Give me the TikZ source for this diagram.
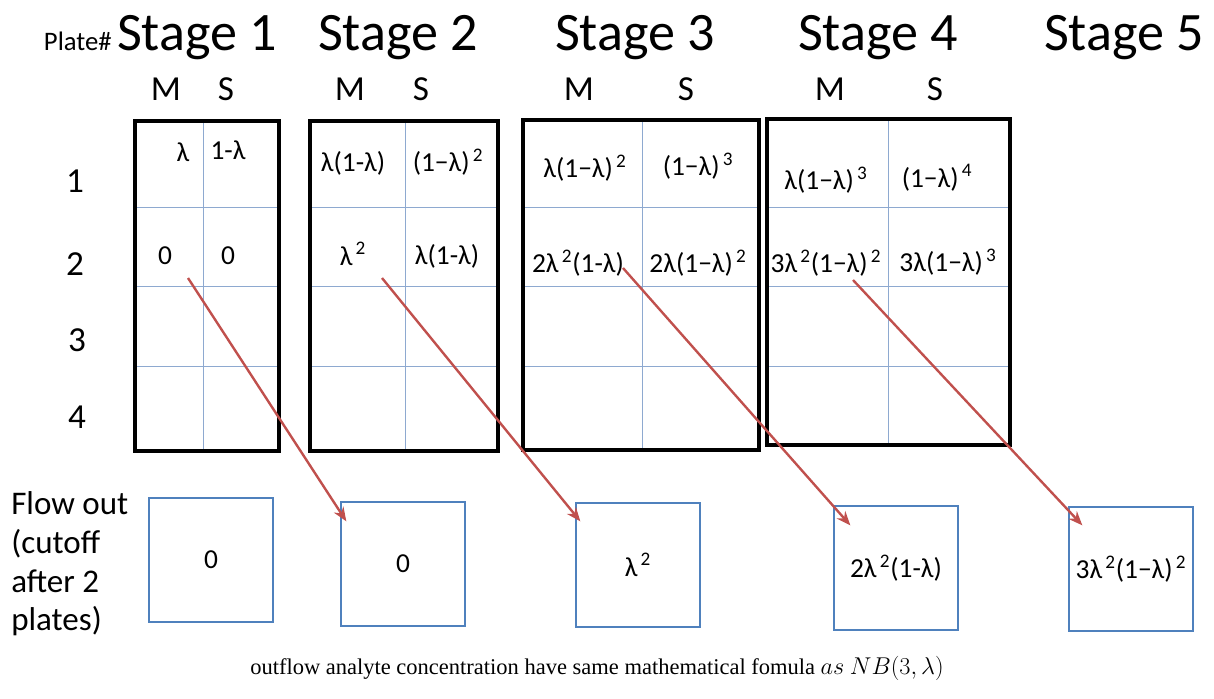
\documentclass[tikz,border=0pt]{standalone}
\usepackage{fontspec}
\setmainfont{Carlito}
\newfontfamily\capfont{Liberation Serif}
\usepackage{tikz}
\usetikzlibrary{
    positioning,
    arrows.meta,
    calc
}
\definecolor{gridblue}{HTML}{8EA9D0}
\definecolor{boxblue}{HTML}{4F81BD}
\definecolor{arrred}{HTML}{C0504D}
\newcommand{\lam}{λ}
\newcommand{\sq}[1]{\textsuperscript{\,#1}}

\begin{document}
\begin{tikzpicture}[x=0.025cm, y=-0.025cm,
    stagelab/.style={font=\fontsize{38.5}{40}\selectfont, inner sep=0pt, anchor=base},
    collab/.style={font=\fontsize{25}{28}\selectfont, inner sep=0pt, anchor=base},
    rowlab/.style={font=\fontsize{25}{28}\selectfont, inner sep=0pt},
    cell/.style={font=\fontsize{19.5}{21}\selectfont, inner sep=0pt},
    platebox/.style={draw=black, line width=2.3pt},
    gridline/.style={draw=gridblue, line width=0.6pt},
    outbox/.style={draw=boxblue, line width=1.5pt, minimum width=3.08cm,
                   minimum height=3.08cm, inner sep=0pt, font=\fontsize{19.5}{21}\selectfont},
    flowarr/.style={-{Stealth[length=10pt, width=8pt]}, draw=arrred, line width=1.7pt}]

    \useasboundingbox (0,0) rectangle (1214,698);

    % ============ HEADERS ============
    \node[font=\fontsize{19}{20}\selectfont, inner sep=0pt, anchor=base east] (plate) at (112,50) {Plate\#};
    \node[stagelab] (st1) at (197,50) {Stage 1};
    \node[stagelab] (st2) at (398,50) {Stage 2};
    \node[stagelab] (st3) at (635,50) {Stage 3};
    \node[stagelab] (st4) at (878,50) {Stage 4};
    \node[stagelab] (st5) at (1124,50) {Stage 5};

    \node[collab] (m1) at (166,100) {M};
    \node[collab] (s1) at (226,100) {S};
    \node[collab] (m2) at (350,100) {M};
    \node[collab] (s2) at (421,100) {S};
    \node[collab] (m3) at (579,100) {M};
    \node[collab] (s3) at (686,100) {S};
    \node[collab] (m4) at (830,100) {M};
    \node[collab] (s4) at (935,100) {S};

    \node[rowlab] (r1) at (75,181) {1};
    \node[rowlab] (r2) at (75,264) {2};
    \node[rowlab] (r3) at (77,340) {3};
    \node[rowlab] (r4) at (77,417) {4};

    % ============ PLATE GRIDS ============
    % left / middle / right / top / bottom of each stage
    \foreach \l/\m/\r/\t/\b in {135/203/279/121/451, 310/405/498/121/451,
                                523/642/759/120/450, 767/888/1010/119/445}{
      \draw[gridline] (\m,\t) -- (\m,\b);
      \foreach \h in {207,286,366}
        \draw[gridline] (\l,\h) -- (\r,\h);
      \draw[platebox] (\l,\t) rectangle (\r,\b);
    }

    % stage 1
    \node[cell] (c1a) at (183,152) {\lam};
    \node[cell] (c1b) at (228,150) {1-\lam};
    \node[cell] (c1c) at (165,256) {0};
    \node[cell] (c1d) at (228,256) {0};
    % stage 2
    \node[cell] (c2a) at (353,163) {\lam(1-\lam)};
    \node[cell] (c2b) at (448,162) {(1−\lam)\sq{2}};
    \node[cell] (c2c) at (353,254) {\lam\sq{2}};
    \node[cell] (c2d) at (447,256) {\lam(1-\lam)};
    % stage 3
    \node[cell] (c3a) at (585,168) {\lam(1−\lam)\sq{2}};
    \node[cell] (c3b) at (698,166) {(1−\lam)\sq{3}};
    \node[cell] (c3c) at (578,263) {2\lam\sq{2}(1-\lam)};
    \node[cell] (c3d) at (698,263) {2\lam(1−\lam)\sq{2}};
    % stage 4
    \node[cell] (c4a) at (826,180) {\lam(1−\lam)\sq{3}};
    \node[cell] (c4b) at (937,178) {(1−\lam)\sq{4}};
    \node[cell] (c4c) at (826,263) {3\lam\sq{2}(1−\lam)\sq{2}};
    \node[cell] (c4d) at (948,262) {3\lam(1−\lam)\sq{3}};

    % ============ FLOW OUT ============
    \node[font=\fontsize{23.5}{27.5}\selectfont, align=left, inner sep=0pt, anchor=west] (flow)
      at (11,564) {Flow out\\(cutoff\\after 2\\plates)};

    \node[outbox] (fb1) at (211,560) {0};
    \node[outbox] (fb2) at (403,564) {0};
    \node[outbox] (fb3) at (638,565) {\lam\sq{2}};
    \node[outbox] (fb4) at (896,568) {2\lam\sq{2}(1-\lam)};
    \node[outbox] (fb5) at (1131,569) {3\lam\sq{2}(1−\lam)\sq{2}};

    % arrows leave row 2 of the mobile column
    \coordinate (a1) at (188,278);
    \coordinate (a2) at (382,278);
    \coordinate (a3) at (623,268);
    \coordinate (a4) at (853,280);

    \draw[flowarr] (a1) -- ($(fb2.north west)+(6,20)$);
    \draw[flowarr] (a2) -- ($(fb3.north west)+(5,19)$);
    \draw[flowarr] (a3) -- ($(fb4.north west)+(17,20)$);
    \draw[flowarr] (a4) -- ($(fb5.north west)+(14,19)$);

    \node[font=\capfont\fontsize{16}{18}\selectfont, inner sep=0pt] (cap) at (597,668)
      {outflow analyte concentration have same mathematical fomula $as\ NB(3,\lambda)$};

\end{tikzpicture}
\end{document}
